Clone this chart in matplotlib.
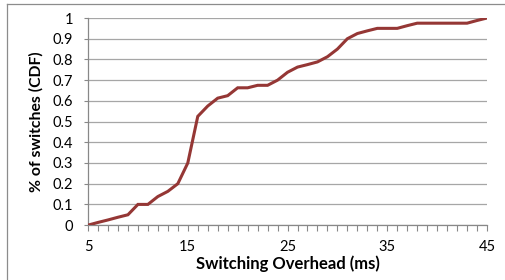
import matplotlib
matplotlib.use("Agg")
import matplotlib.pyplot as plt
from matplotlib.lines import Line2D

# switching overhead (ms) and CDF of switches
overhead_ms = list(range(5, 46))
cdf = [0.0, 0.013, 0.025, 0.038, 0.05, 0.1, 0.1, 0.138, 0.163, 0.2,
       0.3, 0.525, 0.575, 0.613, 0.625, 0.663, 0.663, 0.675, 0.675, 0.7,
       0.738, 0.763, 0.775, 0.788, 0.813, 0.85, 0.9, 0.925, 0.938, 0.95,
       0.95, 0.95, 0.963, 0.975, 0.975, 0.975, 0.975, 0.975, 0.975, 0.988,
       1.0]
yticks = [0, 0.1, 0.2, 0.3, 0.4, 0.5, 0.6, 0.7, 0.8, 0.9, 1]
ytick_labels = ["0", "0.1", "0.2", "0.3", "0.4", "0.5", "0.6", "0.7", "0.8", "0.9", "1"]
xlabel_ticks = [5, 15, 25, 35, 45]

plt.rcParams["font.family"] = ["Lato", "DejaVu Sans"]

fig = plt.figure(figsize=(5.06, 2.80), dpi=100)
ax = fig.add_axes([0.174, 0.196, 0.9625 - 0.174, 0.9357 - 0.196])

ax.plot(overhead_ms, cdf, color="#953735", linewidth=2.2, solid_joinstyle="miter", zorder=3)

ax.set_xlim(5, 45)
ax.set_ylim(0, 1)
ax.set_yticks(yticks)
ax.set_yticklabels(ytick_labels, fontsize=10.5)
ax.set_xticks(overhead_ms)
ax.set_xticklabels([str(x) if x in xlabel_ticks else "" for x in overhead_ms], fontsize=10.5)
ax.tick_params(axis="x", direction="out", length=4, width=0.8, color="#888888", pad=7)
ax.tick_params(axis="y", direction="out", length=3, width=0.8, color="#888888", pad=8)
ax.grid(axis="y", color="#a6a6a6", linewidth=0.9)
ax.set_axisbelow(True)
for side in ["top", "right"]:
    ax.spines[side].set_visible(False)
for side in ["left", "bottom"]:
    ax.spines[side].set_color("#888888")
    ax.spines[side].set_linewidth(0.9)

ax.set_xlabel("Switching Overhead (ms)", fontsize=12, fontweight="bold", labelpad=1)
ax.set_ylabel("% of switches (CDF)", fontsize=11.3, fontweight="bold", labelpad=6)

# chart frame (cropped at right and bottom)
fig.add_artist(Line2D([7 / 506, 7 / 506], [0, 1 - 4 / 280], transform=fig.transFigure, color="#8c8c8c", linewidth=0.9))
fig.add_artist(Line2D([7 / 506, 1], [1 - 4 / 280, 1 - 4 / 280], transform=fig.transFigure, color="#8c8c8c", linewidth=0.9))

fig.savefig("out.png", dpi=100)
